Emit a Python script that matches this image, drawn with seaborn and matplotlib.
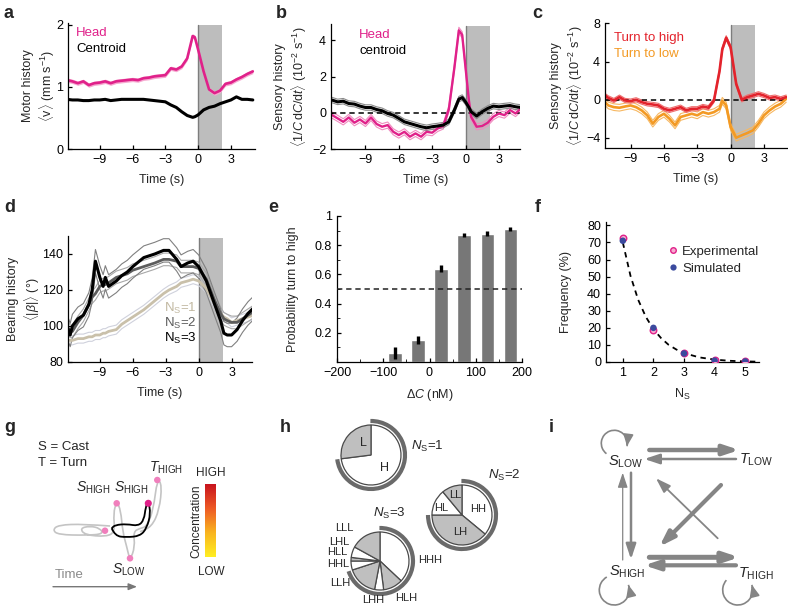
import numpy as np
import matplotlib.pyplot as plt
import seaborn as sns
from matplotlib.path import Path
from matplotlib.patches import PathPatch, Arc
from matplotlib.lines import Line2D
from matplotlib.colors import LinearSegmentedColormap

# ---------------- data ----------------
# a: motor history
t_a = [-12, -11.5, -11, -10.5, -10, -9.5, -9, -8.5, -8, -7.5, -7, -6.5, -6, -5.5, -5, -4.5, -4, -3.5,
       -3, -2.5, -2, -1.5, -1, -0.5, -0.3, 0, 0.5, 1, 1.5, 2, 2.5, 3, 3.5, 4, 4.5, 5]
head_a = [1.11, 1.09, 1.06, 1.09, 1.03, 1.06, 1.07, 1.09, 1.06, 1.09, 1.10, 1.11, 1.12, 1.11, 1.14, 1.15, 1.17, 1.18,
          1.19, 1.30, 1.28, 1.33, 1.46, 1.82, 1.80, 1.60, 1.25, 0.96, 0.90, 0.94, 1.05, 1.07, 1.12, 1.16, 1.21, 1.25]
centroid_a = [0.80, 0.79, 0.79, 0.78, 0.78, 0.79, 0.79, 0.80, 0.78, 0.79, 0.80, 0.80, 0.80, 0.80, 0.80, 0.79, 0.78, 0.77,
              0.76, 0.71, 0.67, 0.60, 0.54, 0.51, 0.52, 0.55, 0.63, 0.67, 0.69, 0.73, 0.76, 0.79, 0.84, 0.80, 0.80, 0.79]

# b: sensory history head / centroid
t_b = [-12, -11.5, -11, -10.5, -10, -9.5, -9, -8.5, -8, -7.5, -7, -6.5, -6, -5.5, -5, -4.5, -4, -3.5, -3,
       -2.5, -2, -1.5, -1, -0.6, -0.3, 0, 0.3, 0.5, 1, 1.5, 2, 2.5, 3, 3.5, 4, 4.5, 5]
head_b = [-0.13, -0.31, -0.50, -0.26, -0.55, -0.37, -0.59, -0.26, -0.62, -0.77, -0.68, -1.05, -1.23, -1.05, -1.32,
          -1.14, -1.32, -1.05, -1.10, -0.86, -0.73, 0.20, 2.50, 4.55, 4.30, 2.50, 0.70, -0.22, -0.77, -0.73, -0.55,
          -0.22, -0.04, -0.13, 0.15, -0.04, 0.24]
centroid_b = [0.70, 0.60, 0.64, 0.51, 0.48, 0.37, 0.29, 0.29, 0.18, 0.11, -0.04, -0.13, -0.31, -0.50, -0.59, -0.68,
              -0.77, -0.83, -0.77, -0.73, -0.68, -0.50, 0.15, 0.75, 0.84, 0.60, 0.30, 0.06, -0.18, 0.06, 0.24, 0.37,
              0.33, 0.37, 0.40, 0.33, 0.29]

# c: sensory history by turn direction
t_c = [-11.3, -11, -10.5, -10, -9.5, -9, -8.5, -8, -7.5, -7, -6.5, -6, -5.5, -5, -4.5, -4, -3.5, -3, -2.5, -2,
       -1.5, -1, -0.75, -0.4, 0, 0.5, 1, 1.5, 2, 2.5, 3, 3.5, 4, 4.5, 5]
high_c = [0.45, 0.20, -0.07, 0.28, -0.07, -0.14, 0.0, -0.24, -0.42, -0.49, -0.59, -0.94, -1.11, -0.94, -0.77, -1.11,
          -0.94, -0.94, -0.70, -0.83, -0.07, 3.0, 5.3, 6.5, 5.5, 1.67, 0.0, 0.28, 0.45, 0.63, 0.45, 0.20, 0.28, 0.10,
          0.28]
low_c = [-0.24, -0.59, -0.77, -0.83, -0.70, -0.59, -0.77, -1.11, -1.63, -2.5, -1.8, -1.46, -1.98, -2.68, -1.8, -1.63,
         -1.46, -1.63, -1.29, -1.46, -1.29, -0.94, -0.10, -0.60, -2.85, -3.97, -3.72, -3.48, -3.2, -2.5, -1.63, -1.11,
         -0.70, -0.42, 0.10]

# d: bearing history by number of casts
t_d = [-12, -11.7, -11.5, -11, -10.5, -10, -9.7, -9.4, -9, -8.7, -8.5, -8.2, -7.5, -7, -6.5, -6, -5, -4, -3.2,
       -2.7, -2, -1.6, -1, -0.5, 0, 0.7, 1.4, 2, 2.3, 2.6, 3, 3.5, 4, 4.5, 5]
ns3_d = [100, 95, 100, 104, 106, 112, 120, 136, 127, 122, 127, 122, 125, 128, 130, 133, 138, 140, 142, 142, 137, 133,
         135, 136, 133, 125, 113, 103, 96, 95, 95, 98, 103, 107, 110]
ns2_d = [100, 97, 97, 102, 106, 112, 116, 118, 122, 123, 123, 124, 127, 128, 129, 131, 133, 135, 137, 137, 136, 133,
         133, 133, 132, 126, 115, 107, 104, 103, 102, 102, 104, 106, 108]
ns1_d = [92, 92, 92, 93, 93, 94, 94, 95, 95, 96, 96, 97, 98, 101, 103, 105, 109, 114, 118, 120, 122, 124, 125, 126,
         125, 121, 113, 107, 105, 104, 102, 103, 104, 105, 106]
sem_d = {"ns1": 2.5, "ns2": 3.5, "ns3": 6.5}

# e: probability turn to high
dc_e = [-75, -25, 25, 75, 125, 175]
prob_e = [0.06, 0.15, 0.64, 0.87, 0.88, 0.91]
err_e = [0.04, 0.03, 0.025, 0.015, 0.015, 0.015]

# f: number of casts
ns_f = [1, 2, 3, 4, 5]
freq_exp = [72.5, 18.5, 5.0, 1.0, 0.3]
freq_sim = [71.0, 20.0, 5.0, 0.8, 0.3]
fit_x = [1.0, 1.25, 1.5, 1.75, 2.0, 2.25, 2.5, 2.75, 3.0, 3.5, 4.0, 4.5, 5.0, 5.4]
fit_y = [70, 50.5, 36.5, 26.5, 19.2, 14, 10, 7.3, 5.2, 2.7, 1.4, 0.7, 0.35, 0.2]

# h: cast sequences
pie1_lab = ["H", "L"]
pie1_frac = [0.73, 0.27]
pie2_lab = ["HH", "LH", "HL", "LL"]
pie2_frac = [0.36, 0.39, 0.14, 0.11]
pie3_lab = ["HHH", "HLH", "LHH", "LLH", "HHL", "HLL", "LHL", "LLL"]
pie3_frac = [0.37, 0.11, 0.05, 0.17, 0.05, 0.02, 0.06, 0.17]

# ---------------- style ----------------
sns.set_style("ticks")
plt.rcParams["font.family"] = ["Liberation Sans", "DejaVu Sans"]
plt.rcParams.update({
    "font.size": 9, "axes.labelsize": 9, "xtick.labelsize": 9, "ytick.labelsize": 9,
    "axes.edgecolor": "black", "axes.linewidth": 0.9,
    "xtick.color": "black", "ytick.color": "black",
    "xtick.direction": "in", "ytick.direction": "in",
    "xtick.major.size": 3, "ytick.major.size": 3, "xtick.minor.size": 2, "ytick.minor.size": 2,
    "xtick.major.width": 0.9, "ytick.major.width": 0.9,
    "mathtext.fontset": "custom", "mathtext.rm": "Liberation Sans",
    "mathtext.it": "Liberation Sans:italic", "mathtext.bf": "Liberation Sans:bold",
})

MAG = "#e0218a"
RED = "#e3232c"
ORANGE = "#f39a24"
SHADE = "#bdbdbd"
ARROW = "#858585"

W, H = 788, 607
fig = plt.figure(figsize=(W / 100, H / 100), dpi=100)


def box(l, t, r, b):
    return fig.add_axes([l / W, 1 - b / H, (r - l) / W, (b - t) / H])


def ftext(x, y, s, **kw):
    fig.text(x / W, 1 - y / H, s, va="center", **kw)


def time_axes(ax, xlim):
    ax.axvspan(0, 2.2, ymax=0.985, color=SHADE, lw=0, zorder=0)
    ax.axvline(0, ymax=0.985, color="#7d7d7d", lw=1, zorder=0.5)
    ax.set_xlim(*xlim)
    ax.set_xticks([-9, -6, -3, 0, 3])
    ax.set_xlabel("Time (s)", labelpad=6)
    sns.despine(ax=ax)


def trace(ax, t, y, color, lw, sem=None, band=None, fill=False):
    t = np.asarray(t, float)
    y = np.asarray(y, float)
    if sem is not None:
        if fill:
            ax.fill_between(t, y - sem, y + sem, color=band, lw=0, zorder=1)
        else:
            ax.plot(t, y + sem, color=band, lw=0.8, zorder=1)
            ax.plot(t, y - sem, color=band, lw=0.8, zorder=1)
    sns.lineplot(x=t, y=y, color=color, lw=lw, ax=ax, zorder=2)


# ---------------- a ----------------
ax = box(68, 23, 255, 149)
time_axes(ax, (-11.9, 5.2))
trace(ax, t_a, head_a, MAG, 1.9, sem=0.035, band="#f6a9d0", fill=True)
trace(ax, t_a, centroid_a, "black", 2.2)
ax.set_ylim(0, 2.03)
ax.set_yticks([0, 1, 2])
ax.set_ylabel("Motor history\n" + r"$\langle$v$\rangle$ (mm s$^{-1}$)")
ax.yaxis.set_label_coords(-0.060, 0.5)
ftext(76, 33, "Head", color=MAG, fontsize=9.5)
ftext(76, 49, "Centroid", color="black", fontsize=9.5)

# ---------------- b ----------------
ax = box(331, 24, 520, 149)
time_axes(ax, (-12.1, 4.9))
ax.axhline(0, ls="--", color="black", lw=1.1, dashes=(3.5, 2.5), zorder=1.5)
trace(ax, t_b, head_b, MAG, 1.7, sem=0.17, band="#f08cc0")
trace(ax, t_b, centroid_b, "black", 2.2, sem=0.15, band="#8a8a8a")
ax.set_ylim(-2, 4.9)
ax.set_yticks([-2, 0, 2, 4])
ax.set_ylabel("Sensory history\n" + r"$\langle 1/C\,\mathrm{d}C/\mathrm{d}t\rangle$ (10$^{-2}$ s$^{-1}$)")
ax.yaxis.set_label_coords(-0.117, 0.5)
ftext(359, 35, "Head", color=MAG, fontsize=9.5)
ftext(359, 51, "centroid", color="black", fontsize=9.5)

# ---------------- c ----------------
ax = box(605, 23, 787, 148)
time_axes(ax, (-11.3, 5.07))
ax.axhline(0, ls="--", color="black", lw=1.1, dashes=(3.5, 2.5), zorder=1.5)
trace(ax, t_c, low_c, ORANGE, 1.9, sem=0.35, band="#f7b862")
trace(ax, t_c, high_c, RED, 1.9, sem=0.22, band="#ef6f6f")
ax.set_ylim(-5.05, 8.05)
ax.set_yticks([-4, 0, 4, 8])
ax.set_ylabel("Sensory history\n" + r"$\langle 1/C\,\mathrm{d}C/\mathrm{d}t\rangle$ (10$^{-2}$ s$^{-1}$)")
ax.yaxis.set_label_coords(-0.110, 0.5)
ftext(614, 38, "Turn to high", color=RED, fontsize=9.5)
ftext(614, 54, "Turn to low", color=ORANGE, fontsize=9.5)

# ---------------- d ----------------
ax = box(68, 236, 252, 362)
time_axes(ax, (-11.9, 4.86))
trace(ax, t_d, ns1_d, "#c9c0aa", 2.0, sem=sem_d["ns1"], band="#cfd1dc")
trace(ax, t_d, ns2_d, "#5c5c5c", 2.0, sem=sem_d["ns2"], band="#a8a8a8")
trace(ax, t_d, ns3_d, "black", 2.2, sem=sem_d["ns3"], band="#808080")
ax.set_ylim(80, 150)
ax.set_yticks([80, 100, 120, 140])
ax.set_ylabel("Bearing history\n" + r"$\langle|\beta|\rangle$ (°)")
ax.yaxis.set_label_coords(-0.142, 0.5)
ftext(197, 308, r"N$_\mathrm{S}$=1", color="#c2b9a2", fontsize=9.5, ha="right")
ftext(197, 323, r"N$_\mathrm{S}$=2", color="#5c5c5c", fontsize=9.5, ha="right")
ftext(197, 338, r"N$_\mathrm{S}$=3", color="black", fontsize=9.5, ha="right")

# ---------------- e ----------------
ax = box(337, 216, 522, 362)
sns.barplot(x=dc_e, y=prob_e, native_scale=True, color="#777777", saturation=1, width=0.58,
            errorbar=None, ax=ax, zorder=2)
ax.errorbar(dc_e, prob_e, yerr=err_e, fmt="none", ecolor="black", elinewidth=2.4, capsize=0, zorder=3)
ax.axhline(0.5, ls="--", color="#222222", lw=1.1, dashes=(3.5, 2.5), zorder=4)
ax.set_xlim(-200, 200)
ax.set_ylim(0, 1.0)
ax.set_xticks([-200, -100, 0, 100, 200])
ax.set_xticks([-150, -50, 50, 150], minor=True)
ax.set_yticks([0.2, 0.4, 0.6, 0.8, 1.0], ["0.2", "0.4", "0.6", "0.8", "1"])
ax.set_yticks([0.1, 0.3, 0.5, 0.7, 0.9], minor=True)
ax.set_xlabel(r"$\Delta C$ (nM)", labelpad=6)
ax.set_ylabel("Probability turn to high")
ax.yaxis.set_label_coords(-0.205, 0.5)
sns.despine(ax=ax)

# ---------------- f ----------------
ax = box(606, 222, 759, 362)
sns.lineplot(x=fit_x, y=fit_y, color="black", lw=1.3, ax=ax, zorder=2)
ax.lines[-1].set_dashes((3, 2.5))
sns.scatterplot(x=ns_f, y=freq_exp, s=22, color="#f7aacf", edgecolor=MAG, linewidth=1, ax=ax, zorder=3)
sns.scatterplot(x=ns_f, y=freq_sim, s=22, color="#3b4a9e", edgecolor="none", ax=ax, zorder=4)
ax.set_xlim(0.45, 5.45)
ax.set_ylim(0, 82)
ax.set_xticks([1, 2, 3, 4, 5])
ax.set_yticks(range(0, 81, 10))
ax.set_xlabel(r"N$_\mathrm{S}$", labelpad=6)
ax.set_ylabel("Frequency (%)")
ax.yaxis.set_label_coords(-0.222, 0.5)
handles = [Line2D([], [], ls="none", marker="o", ms=4, mfc="#f7aacf", mec=MAG, mew=1),
           Line2D([], [], ls="none", marker="o", ms=4.5, mfc="#3b4a9e", mec="none")]
ax.legend(handles, ["Experimental", "Simulated"], loc="upper left", bbox_to_anchor=(0.36, 0.87),
          frameon=False, handletextpad=0.2, handlelength=1, borderaxespad=0, labelspacing=0.35,
          fontsize=9.5)
sns.despine(ax=ax)

# ---------------- g: schematic ----------------
gray_path = [(110, 81), (83.3, 83), (58.3, 82), (52.7, 77), (58.3, 72.3), (86.7, 71.7), (103.3, 73), (100, 78.7),
             (90, 81), (80, 78.7), (85, 72), (106.7, 70.3), (115, 75.3), (113.3, 93.7), (116.7, 105.5),
             (120.7, 97), (122.7, 75.3), (126.7, 60.3), (130, 46.5), (135, 60.3), (133.3, 75.3), (140, 78.7),
             (146.7, 80.3), (153.3, 97), (157.3, 128.5), (162, 122), (159.3, 97), (151.7, 80.3), (140, 75.3)]
black_path = [(111.7, 78.7), (115, 71), (126.7, 69.7), (140, 71), (146.7, 78.7), (150.7, 93.7), (148.3, 105.5),
              (145.7, 100.3), (144, 87), (138.3, 81), (126.7, 83), (115, 82), (111.7, 78.7)]
cast_dots = [(116.7, 103.7), (105, 76.3), (130, 48.7), (157.3, 127)]
turn_dot = (148.3, 103.7)


def smooth(ax, pts, **kw):
    pts = np.asarray(pts, float)
    verts = [pts[0]]
    codes = [Path.MOVETO]
    for i in range(1, len(pts) - 1):
        verts += [pts[i], (pts[i] + pts[i + 1]) / 2]
        codes += [Path.CURVE3, Path.CURVE3]
    verts.append(pts[-1])
    codes.append(Path.LINETO)
    ax.add_patch(PathPatch(Path(verts, codes), fill=False, **kw))


ax = box(0, 400, 263, 607)
ax.set_xlim(0, 263)
ax.set_ylim(0, 207)
smooth(ax, gray_path, edgecolor="#c4c4c4", lw=1.2, zorder=1)
smooth(ax, black_path, edgecolor="black", lw=1.3, zorder=2)
ax.scatter(*zip(*cast_dots), s=22, color="#f07fbc", zorder=3, edgecolor="none")
ax.scatter(*turn_dot, s=26, color=MAG, zorder=3, edgecolor="none")
conc = LinearSegmentedColormap.from_list("conc", ["#ffee22", "#f9b41f", "#ee5a25", "#c8141e"])
ax.imshow(np.linspace(0, 1, 128).reshape(-1, 1), extent=(205, 216, 50, 123), origin="lower", cmap=conc,
          aspect="auto", zorder=1)
ax.set_xlim(0, 263)
ax.set_ylim(0, 207)
ax.text(38, 160.3, "S = Cast", fontsize=9.5, va="center")
ax.text(38, 144.3, "T = Turn", fontsize=9.5, va="center")
ax.text(93.3, 119.7, r"$S_\mathrm{HIGH}$", fontsize=10, ha="center", va="center")
ax.text(131.7, 119.7, r"$S_\mathrm{HIGH}$", fontsize=10, ha="center", va="center")
ax.text(166, 138.7, r"$T_\mathrm{HIGH}$", fontsize=10, ha="center", va="center")
ax.text(128.3, 37, r"$S_\mathrm{LOW}$", fontsize=10, ha="center", va="center")
ax.text(211, 134.3, "HIGH", fontsize=8.5, ha="center", va="center")
ax.text(211, 35.3, "LOW", fontsize=8.5, ha="center", va="center")
ax.text(196, 86, "Concentration", fontsize=8.5, rotation=90, ha="center", va="center")
ax.annotate("", xy=(137, 20.3), xytext=(53, 20.3),
            arrowprops=dict(arrowstyle="-|>,head_length=0.5,head_width=0.2", color="#777777", lw=1,
                            shrinkA=0, shrinkB=0, mutation_scale=10))
ax.text(69, 32, "Time", fontsize=9.5, color="#8a8a8a", ha="center", va="center")
ax.axis("off")

# ---------------- h: pies ----------------
ax = box(263, 400, 526, 607)
pies = [(pie1_lab, pie1_frac, (371, 152), 30),
        (pie2_lab, pie2_frac, (462, 92), 30),
        (pie3_lab, pie3_frac, (380, 46), 29)]
for labs, fr, (cx, cy), r in pies:
    cols = ["#bfbfbf" if lab[max(len(lab) - 2, 0)] == "L" else "white" for lab in labs]
    ax.pie(fr, colors=cols, center=(cx, cy), radius=r, startangle=90, counterclock=False, frame=True,
           wedgeprops=dict(edgecolor="#4a4a4a", linewidth=0.9))
    h_share = sum(f for lab, f in zip(labs, fr) if lab.endswith("H"))
    ax.add_patch(Arc((cx, cy), 2 * (r + 4), 2 * (r + 4), theta1=90 - 360 * h_share, theta2=91,
                     color="#6a6a6a", lw=3))
ax.set_aspect("auto")
ax.set_xlim(263, 526)
ax.set_ylim(0, 207)
pie_text = [("L", 363, 163.7), ("H", 384.7, 138.7),
            ("LL", 455, 112), ("HL", 441.3, 98.7), ("HH", 478, 98), ("LH", 459.7, 75.3),
            ("LLL", 344.7, 79.3), ("LHL", 339.7, 65.3), ("HLL", 337, 55.3), ("HHL", 338, 43),
            ("LLH", 340.3, 23.7), ("LHH", 373, 7), ("HLH", 406.3, 8.7), ("HHH", 429.7, 47)]
for s, x, y in pie_text:
    ax.text(x, y, s, fontsize=8 if len(s) > 1 else 9, ha="center", va="center")
ax.text(411, 160.3, r"$N_\mathrm{S}$=1", fontsize=9.5, va="center")
ax.text(488, 132, r"$N_\mathrm{S}$=2", fontsize=9.5, va="center")
ax.text(373, 93.7, r"$N_\mathrm{S}$=3", fontsize=9.5, va="center")
ax.axis("off")

# ---------------- i: transition graph ----------------
nodes = [(r"$S_\mathrm{LOW}$", 626, 145.3), (r"$T_\mathrm{LOW}$", 756, 147),
         (r"$S_\mathrm{HIGH}$", 627.7, 35.3), (r"$T_\mathrm{HIGH}$", 756, 33.7)]
edges = [(649.3, 157, 739.3, 157, 3.2), (736, 148, 644.3, 148, 1.8),
         (649.3, 49.7, 739.3, 49.7, 3.6), (736, 41.7, 644.3, 41.7, 3.0),
         (631, 134.3, 631, 47.7, 1.8), (622.7, 47, 622.7, 134.3, 0.9),
         (717.7, 68.7, 656, 128.7, 1.3), (721, 122, 659.3, 60.3, 3.0)]
loops = [(614.3, 163.7, 13, 233, -13), (614.3, 17, 15, 120, 380), (737.7, 17, 15, 139, 380)]

ax = box(526, 400, 788, 607)
ax.set_xlim(526, 788)
ax.set_ylim(0, 207)
head = "-|>,head_length=0.9,head_width=0.3"
for x0, y0, x1, y1, lw in edges:
    ax.annotate("", xy=(x1, y1), xytext=(x0, y0),
                arrowprops=dict(arrowstyle=head, color=ARROW, lw=lw, shrinkA=0, shrinkB=0,
                                mutation_scale=10))
for cx, cy, r, a_start, a_end in loops:
    lo, hi = min(a_start, a_end), max(a_start, a_end)
    ax.add_patch(Arc((cx, cy), 2 * r, 2 * r, theta1=lo, theta2=hi, color=ARROW, lw=1.2))
    step = -12 if a_end > a_start else 12
    e = np.deg2rad(a_end)
    p = np.deg2rad(a_end + step)
    ax.annotate("", xy=(cx + r * np.cos(e), cy + r * np.sin(e)),
                xytext=(cx + r * np.cos(p), cy + r * np.sin(p)),
                arrowprops=dict(arrowstyle="-|>,head_length=0.7,head_width=0.3", color=ARROW, lw=1.2,
                                shrinkA=0, shrinkB=0, mutation_scale=10))
for s, x, y in nodes:
    ax.text(x, y, s, fontsize=10.5, ha="center", va="center")
ax.axis("off")

# ---------------- panel letters ----------------
for s, x, y in [("a", 4, 13), ("b", 276, 13), ("c", 532, 14), ("d", 4, 208), ("e", 268, 208),
                ("f", 535, 208), ("g", 4, 428), ("h", 280, 428), ("i", 549, 428)]:
    ftext(x, y, s, fontsize=13, fontweight="bold")

fig.savefig("out.png", dpi=100)
